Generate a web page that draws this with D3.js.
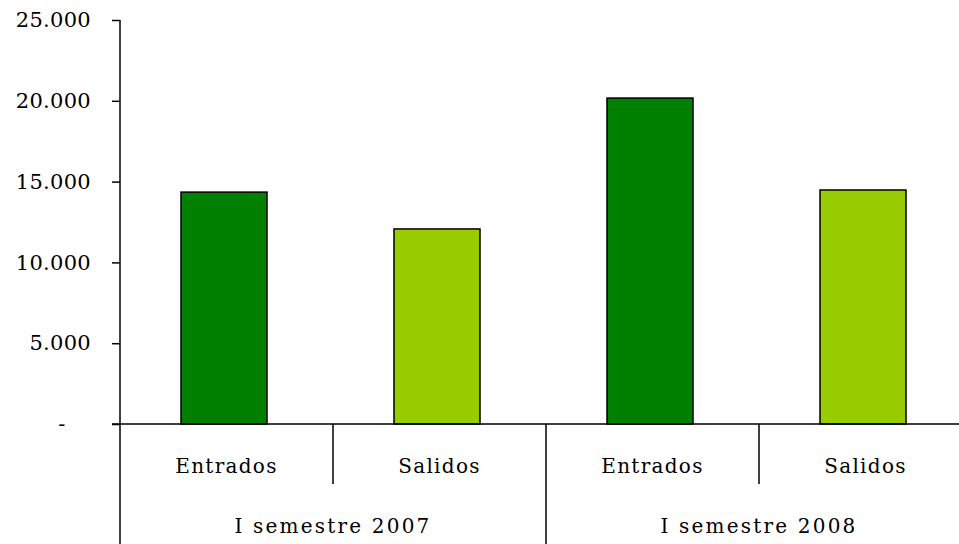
<!DOCTYPE html>
<html><head><meta charset="utf-8">
<script src="https://cdn.jsdelivr.net/npm/d3@7"></script>
<style>body{margin:0;background:#fff}svg{display:block}text{font-family:"DejaVu Serif",serif;fill:#000}</style>
</head><body><svg id="c" width="959" height="544"></svg>
<script>
const categories = ["Entrados","Salidos","Entrados","Salidos"];
const groups = ["I semestre 2007","I semestre 2008"];
const values = [14350,12070,20170,14480];
const colors = ["#008000","#99CC00","#008000","#99CC00"];
const yTicks = [0,5000,10000,15000,20000,25000];
const yTickLabels = ["-","5.000","10.000","15.000","20.000","25.000"];

const svg = d3.select("#c");
const x0 = 120, bandW = 213, y0 = 424, yTop = 20, barW = 86, barOff = 61;
const y = d3.scaleLinear().domain([0,25000]).range([y0,yTop]);
const bandScale = d3.scaleBand().domain(d3.range(categories.length)).range([x0, x0+bandW*categories.length]);

svg.selectAll("rect.bar").data(values).join("rect").attr("class","bar")
  .attr("x",(d,i)=>bandScale(i)+barOff).attr("y",d=>y(d)).attr("width",barW).attr("height",d=>y0-y(d))
  .attr("fill",(d,i)=>colors[i]).attr("stroke","#000").attr("stroke-width",1.5);

const yAxis = d3.axisLeft(y).tickValues(yTicks).tickSize(8).tickFormat((d,i)=>yTickLabels[i]);
const gy = svg.append("g").attr("transform",`translate(${x0},0)`).call(yAxis);
gy.select(".domain").remove();
gy.selectAll(".tick line").attr("stroke","#000").attr("stroke-width",1.5);
gy.selectAll(".tick text").attr("x",d=>d===0?-58:-29).attr("text-anchor",d=>d===0?"middle":"end")
  .style("font-size","21px").style("font-family","DejaVu Serif").attr("letter-spacing","0.3px");
svg.append("line").attr("x1",x0).attr("x2",x0).attr("y1",yTop).attr("y2",544).attr("stroke","#000").attr("stroke-width",1.5);
svg.append("line").attr("x1",x0-8).attr("x2",959).attr("y1",y0).attr("y2",y0).attr("stroke","#000").attr("stroke-width",1.5);

[1,3].forEach(i=>svg.append("line").attr("x1",bandScale(i)).attr("x2",bandScale(i)).attr("y1",y0).attr("y2",484).attr("stroke","#000").attr("stroke-width",1.5));
svg.append("line").attr("x1",bandScale(2)).attr("x2",bandScale(2)).attr("y1",y0).attr("y2",544).attr("stroke","#000").attr("stroke-width",1.5);

svg.selectAll("text.cat").data(categories).join("text").attr("class","cat")
  .attr("x",(d,i)=>bandScale(i)+bandW/2).attr("y",473).attr("text-anchor","middle")
  .style("font-size","20px").attr("letter-spacing","1.3px").text(d=>d);
svg.selectAll("text.grp").data(groups).join("text").attr("class","grp")
  .attr("x",(d,i)=>bandScale(i*2)+bandW).attr("y",533).attr("text-anchor","middle")
  .style("font-size","20px").attr("letter-spacing","2.2px").text(d=>d);
</script></body></html>
